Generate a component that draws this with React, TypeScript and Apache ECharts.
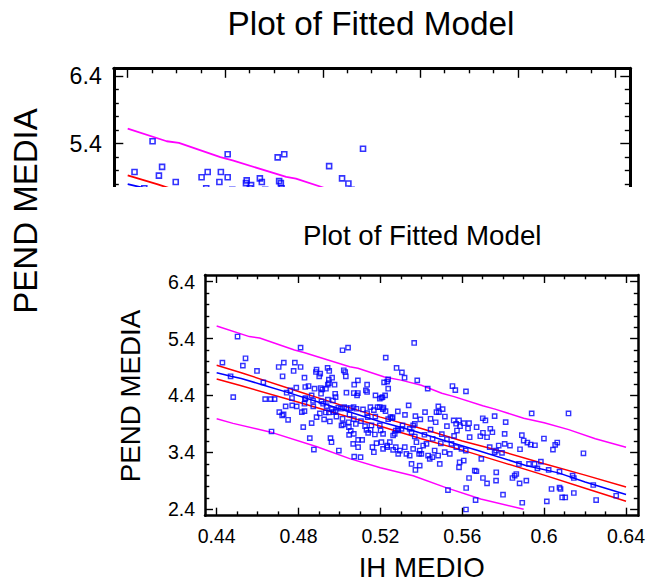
import React, { useEffect, useRef } from "react";
import * as echarts from "echarts";

const chartTitle = "Plot of Fitted Model";
const xName = "IH MEDIO";
const yName = "PEND MEDIA";

const xRange = [0.4343, 0.6459];
const yRange = [2.287, 6.518];
const xMajor = [0.44, 0.48, 0.52, 0.56, 0.6, 0.64];
const xMinor = [0.45, 0.46, 0.47, 0.49, 0.5, 0.51, 0.53, 0.54, 0.55, 0.57, 0.58, 0.59, 0.61, 0.62, 0.63];
const yMajor = [2.4, 3.4, 4.4, 5.4, 6.4];
const yMinor = [2.6, 2.8, 3.0, 3.2, 3.6, 3.8, 4.0, 4.2, 4.6, 4.8, 5.0, 5.2, 5.6, 5.8, 6.0, 6.2];

const observations: [number, number][] = [
  [0.4502, 5.436], [0.4428, 4.978], [0.4541, 5.054], [0.4528, 4.925], [0.4597, 4.831], [0.4468, 4.737],
  [0.4481, 4.372], [0.4628, 4.631], [0.4637, 4.337], [0.4664, 4.337], [0.4683, 4.337], [0.4703, 4.901],
  [0.4728, 4.978], [0.4782, 4.978], [0.4776, 4.831], [0.481, 5.242], [0.481, 4.901], [0.4722, 4.737],
  [0.4829, 4.713], [0.4789, 4.537], [0.4833, 4.549], [0.4849, 4.566], [0.476, 4.49], [0.4742, 4.449],
  [0.4768, 4.355], [0.4888, 4.854], [0.4885, 4.813], [0.4906, 4.784], [0.4901, 4.737], [0.4942, 4.884],
  [0.495, 4.831], [0.4964, 4.713], [0.4948, 4.678], [0.4948, 4.619], [0.5015, 5.195], [0.5042, 5.242],
  [0.5021, 4.843], [0.5028, 4.813], [0.5031, 4.737], [0.5072, 4.59], [0.509, 4.666], [0.507, 4.443],
  [0.509, 4.443], [0.5135, 4.59], [0.5135, 4.461], [0.5226, 5.066], [0.5279, 4.884], [0.5305, 4.807],
  [0.5318, 4.713], [0.538, 4.666], [0.5365, 5.324], [0.5238, 4.684], [0.5233, 4.643], [0.5218, 4.631],
  [0.5238, 4.519], [0.4979, 4.431], [0.4976, 4.59], [0.4908, 4.531], [0.4916, 4.508], [0.4934, 4.519],
  [0.4943, 4.59], [0.4878, 4.519], [0.4864, 4.402], [0.491, 4.431], [0.4834, 4.355], [0.4981, 4.372],
  [0.5034, 4.449], [0.5086, 4.402], [0.5129, 4.49], [0.5176, 4.402], [0.5197, 4.343], [0.521, 4.372],
  [0.5223, 4.402],
  [0.4737, 4.208], [0.4769, 4.226], [0.4791, 4.208], [0.4706, 4.107], [0.472, 4.049], [0.4727, 4.067],
  [0.4816, 4.107], [0.4829, 4.125], [0.4749, 3.973], [0.4871, 4.308], [0.4912, 4.296], [0.492, 4.255],
  [0.4943, 4.326], [0.4937, 4.213], [0.4968, 4.314], [0.4963, 4.16], [0.4971, 4.107], [0.4994, 4.185],
  [0.5007, 4.167], [0.4831, 4.337], [0.4829, 4.255], [0.4904, 4.084], [0.4933, 4.102], [0.4948, 4.102],
  [0.4981, 4.125], [0.5023, 4.195], [0.5034, 4.178], [0.5055, 4.178], [0.5069, 4.195], [0.5083, 4.167],
  [0.5049, 4.067], [0.507, 3.984], [0.5115, 4.155], [0.5135, 4.09], [0.5138, 4.019], [0.5151, 4.195],
  [0.5168, 4.142], [0.5186, 4.195], [0.5197, 4.195], [0.5212, 4.16], [0.5215, 4.185], [0.5249, 4.019],
  [0.526, 4.019], [0.4872, 4.208],
  [0.5431, 4.52], [0.5552, 4.566], [0.5566, 4.495], [0.5618, 4.472], [0.5338, 4.226], [0.5371, 4.037],
  [0.5418, 4.107], [0.5474, 4.107], [0.5486, 4.107], [0.5483, 4.208], [0.5504, 4.16], [0.5257, 4.0],
  [0.5238, 3.984], [0.57, 4.0], [0.5758, 4.037], [0.5939, 4.084], [0.6119, 4.084], [0.5205, 4.36],
  [0.5225, 4.125],
  [0.4668, 3.767], [0.4823, 3.844], [0.4864, 3.914], [0.4855, 3.65], [0.4875, 3.45], [0.4953, 3.944],
  [0.4956, 3.65], [0.4961, 3.579], [0.4997, 3.432], [0.501, 3.873], [0.5046, 3.844], [0.5047, 3.708],
  [0.5067, 3.55], [0.5072, 3.326], [0.5103, 3.315], [0.507, 3.726], [0.5091, 3.62], [0.5111, 3.62],
  [0.5091, 3.491], [0.5132, 3.797], [0.5152, 3.797], [0.5156, 3.873], [0.5161, 3.491], [0.5168, 3.403],
  [0.5181, 3.561], [0.5173, 3.714], [0.5197, 3.873], [0.5213, 3.726], [0.5213, 3.462], [0.5233, 3.52],
  [0.5246, 3.579], [0.5262, 3.444], [0.5287, 3.373], [0.5287, 3.785], [0.5018, 3.891], [0.514, 3.744],
  [0.5201, 3.785], [0.5275, 3.491], [0.4888, 4.02], [0.4925, 3.98], [0.4985, 4.03], [0.5015, 3.99],
  [0.5045, 3.93], [0.508, 3.9], [0.5105, 3.95], [0.5175, 4.03], [0.5125, 3.86], [0.5055, 3.78],
  [0.5205, 3.579], [0.5233, 3.491], [0.5262, 3.697], [0.527, 3.726], [0.5275, 3.785], [0.5286, 3.814],
  [0.5303, 3.814], [0.5308, 3.873], [0.5343, 3.814], [0.5352, 3.756], [0.536, 3.873], [0.5368, 3.902],
  [0.5368, 3.679], [0.5376, 3.579], [0.5392, 3.432], [0.54, 3.373], [0.5409, 3.52], [0.5425, 3.55],
  [0.5433, 3.344], [0.5441, 3.285], [0.5454, 3.315], [0.5465, 3.432], [0.5482, 3.344], [0.549, 3.197],
  [0.5514, 3.403], [0.553, 2.738], [0.5539, 3.373], [0.5547, 3.55], [0.5571, 3.491], [0.5584, 3.138],
  [0.5587, 3.226], [0.5596, 3.462], [0.5607, 3.256], [0.5617, 3.432], [0.5633, 2.95], [0.5636, 3.667],
  [0.5661, 3.079], [0.5669, 3.068], [0.5693, 3.285], [0.5701, 2.95], [0.5721, 2.856], [0.5734, 3.491],
  [0.5758, 3.403], [0.5766, 3.05], [0.5765, 2.903], [0.5807, 3.55], [0.5845, 2.95], [0.5856, 2.991],
  [0.5864, 3.02], [0.588, 2.856], [0.5913, 2.903], [0.5877, 3.197], [0.5295, 3.432], [0.5319, 3.491],
  [0.5327, 3.373], [0.5343, 3.344], [0.536, 3.462], [0.5389, 3.373], [0.5392, 3.168], [0.5371, 3.091],
  [0.5352, 3.197],
  [0.5558, 3.961], [0.5584, 3.961], [0.557, 3.903], [0.5589, 3.86], [0.5574, 3.784], [0.5607, 3.913],
  [0.5633, 3.913], [0.5628, 3.82], [0.5713, 3.961], [0.567, 3.843], [0.5688, 3.684], [0.5701, 3.744],
  [0.5737, 3.815], [0.5747, 3.754], [0.5721, 3.666], [0.5778, 3.52], [0.5807, 3.726], [0.5812, 3.931],
  [0.5765, 3.432], [0.5794, 3.391], [0.5833, 3.52], [0.5891, 3.702], [0.59, 3.608], [0.5882, 3.455],
  [0.5918, 3.573], [0.5934, 3.538], [0.5955, 3.525], [0.5999, 3.643], [0.6043, 3.449], [0.6054, 3.532],
  [0.6064, 3.573], [0.5984, 3.238], [0.5953, 3.197], [0.5926, 3.197], [0.5967, 3.119], [0.6022, 3.091],
  [0.6075, 3.061], [0.6139, 2.991], [0.6145, 2.95], [0.6192, 3.384], [0.6036, 2.756], [0.6075, 2.779],
  [0.608, 2.756], [0.6088, 2.608], [0.6103, 2.608], [0.6145, 2.686], [0.624, 2.827], [0.6254, 2.562],
  [0.6352, 2.638], [0.6013, 2.538], [0.5893, 2.515], [0.5799, 2.656], [0.5619, 2.774], [0.5665, 2.562],
  [0.5618, 2.396],
  [0.5285, 4.12], [0.532, 4.06], [0.5395, 3.98], [0.5445, 3.99], [0.5515, 4.03], [0.547, 3.93],
  [0.5525, 3.86], [0.5445, 3.8], [0.55, 3.72], [0.5415, 3.71], [0.5455, 3.64], [0.5525, 3.63],
  [0.556, 3.69], [0.5495, 3.56],
];

const fittedLine: [number, number][] = [
  [0.44, 4.8], [0.447, 4.74], [0.452, 4.7], [0.463, 4.58], [0.475, 4.45], [0.49, 4.28], [0.505, 4.11],
  [0.52, 3.94], [0.536, 3.78], [0.552, 3.6], [0.568, 3.43], [0.591, 3.17], [0.607, 3.04], [0.62, 2.88], [0.64, 2.66],
];
const confUpper: [number, number][] = [
  [0.44, 4.93], [0.452, 4.8], [0.48, 4.47], [0.5, 4.24], [0.52, 4.02], [0.54, 3.82], [0.56, 3.6],
  [0.58, 3.41], [0.6, 3.2], [0.62, 3.0], [0.64, 2.79],
];
const confLower: [number, number][] = [
  [0.44, 4.69], [0.452, 4.57], [0.48, 4.28], [0.5, 4.07], [0.52, 3.86], [0.54, 3.64], [0.56, 3.44],
  [0.58, 3.22], [0.6, 3.0], [0.62, 2.77], [0.64, 2.54],
];
const predUpper: [number, number][] = [
  [0.44, 5.623], [0.456, 5.435], [0.461, 5.41], [0.478, 5.2], [0.483, 5.15], [0.505, 4.905],
  [0.509, 4.88], [0.522, 4.726], [0.53, 4.67], [0.54, 4.58], [0.55, 4.44], [0.556, 4.38],
  [0.57, 4.22], [0.576, 4.16], [0.59, 4.0], [0.6, 3.92], [0.612, 3.8], [0.625, 3.64], [0.64, 3.49],
];
const predLower: [number, number][] = [
  [0.44, 3.99], [0.448, 3.91], [0.466, 3.76], [0.489, 3.5], [0.505, 3.29], [0.52, 3.13],
  [0.536, 2.99], [0.552, 2.78], [0.569, 2.58], [0.59, 2.4],
];

const FONT = '"Liberation Sans", Arial, sans-serif';

type Cfg = {
  grid: { left: number; top: number; width: number; height: number };
  tickFont: number;
  labelMargin: number;
  frame: number;
  major: number;
  minor: number;
  symbol: number;
  symbolBorder: number;
  lineW: number;
  texts: any[];
};

function makeAxis(dim: "x" | "y", pos: string, values: number[], len: number, showLine: boolean, showLabel: boolean, cfg: Cfg) {
  const range = dim === "x" ? xRange : yRange;
  return {
    type: "value",
    position: pos,
    min: range[0],
    max: range[1],
    axisLine: { show: showLine, onZero: false, lineStyle: { color: "#000", width: cfg.frame } },
    axisTick: {
      show: true,
      inside: true,
      length: len,
      customValues: values,
      lineStyle: { color: "#000", width: 1.4 },
    },
    axisLabel: {
      show: showLabel,
      customValues: values,
      margin: cfg.labelMargin,
      fontSize: cfg.tickFont,
      fontFamily: FONT,
      color: "#000",
      formatter: (v: number) => String(v),
    },
    splitLine: { show: false },
  };
}

function buildOption(cfg: Cfg) {
  const lineSeries = (data: [number, number][], color: string) => ({
    type: "line",
    data,
    showSymbol: false,
    symbol: "none",
    lineStyle: { color, width: cfg.lineW },
    z: 2,
  });
  return {
    animation: false,
    backgroundColor: "transparent",
    grid: { ...cfg.grid, containLabel: false },
    xAxis: [
      makeAxis("x", "bottom", xMajor, cfg.major, true, true, cfg),
      makeAxis("x", "bottom", xMinor, cfg.minor, false, false, cfg),
      makeAxis("x", "top", xMajor, cfg.major, true, false, cfg),
      makeAxis("x", "top", xMinor, cfg.minor, false, false, cfg),
    ],
    yAxis: [
      makeAxis("y", "left", yMajor, cfg.major, true, true, cfg),
      makeAxis("y", "left", yMinor, cfg.minor, false, false, cfg),
      makeAxis("y", "right", yMajor, cfg.major, true, false, cfg),
      makeAxis("y", "right", yMinor, cfg.minor, false, false, cfg),
    ],
    series: [
      lineSeries(predUpper, "#ff00ff"),
      lineSeries(predLower, "#ff00ff"),
      lineSeries(confUpper, "#ff0000"),
      lineSeries(confLower, "#ff0000"),
      lineSeries(fittedLine, "#0000ff"),
      {
        type: "scatter",
        data: observations,
        symbol: "rect",
        symbolSize: cfg.symbol,
        itemStyle: { color: "rgba(255,255,255,0)", borderColor: "#0000ff", borderWidth: cfg.symbolBorder },
        z: 3,
      },
    ],
    graphic: cfg.texts,
  };
}

const textEl = (text: string, x: number, y: number, size: number, rotate = 0) => ({
  type: "text",
  x,
  y,
  rotation: rotate,
  style: { text, fontSize: size, fontFamily: FONT, fill: "#000", align: "center", verticalAlign: "middle" },
});

export default function App() {
  const bigRef = useRef<HTMLDivElement>(null);
  const insetRef = useRef<HTMLDivElement>(null);

  useEffect(() => {
    const big = echarts.init(bigRef.current!, undefined, { renderer: "svg" });
    const inset = echarts.init(insetRef.current!, undefined, { renderer: "svg" });

    big.setOption(
      buildOption({
        grid: { left: 113.8, top: 68.3, width: 516, height: 285 },
        tickFont: 23.2,
        labelMargin: 12,
        frame: 3,
        major: 9.5,
        minor: 5,
        symbol: 5,
        symbolBorder: 1.6,
        lineW: 1.8,
        texts: [
          textEl(chartTitle, 371, 23.5, 33.3),
          textEl(yName, 25.5, 211, 33, Math.PI / 2),
        ],
      })
    );

    inset.setOption(
      buildOption({
        grid: { left: 145, top: 88, width: 435, height: 240.7 },
        tickFont: 19.5,
        labelMargin: 10,
        frame: 2.5,
        major: 8,
        minor: 4.3,
        symbol: 4.3,
        symbolBorder: 1.4,
        lineW: 1.5,
        texts: [
          textEl(chartTitle, 362.2, 48.5, 27.7),
          textEl(yName, 70.9, 209, 27.7, Math.PI / 2),
          textEl(xName, 361.7, 380, 27.7),
        ],
      })
    );

    return () => {
      big.dispose();
      inset.dispose();
    };
  }, []);

  return (
    <div style={{ position: "absolute", left: 0, top: 0, width: 648, height: 581, background: "#fff", overflow: "hidden" }}>
      <div ref={bigRef} style={{ position: "absolute", left: 0, top: 0, width: 648, height: 581 }} />
      <div
        ref={insetRef}
        style={{ position: "absolute", left: 60, top: 187, width: 588, height: 394, background: "#fff" }}
      />
    </div>
  );
}
